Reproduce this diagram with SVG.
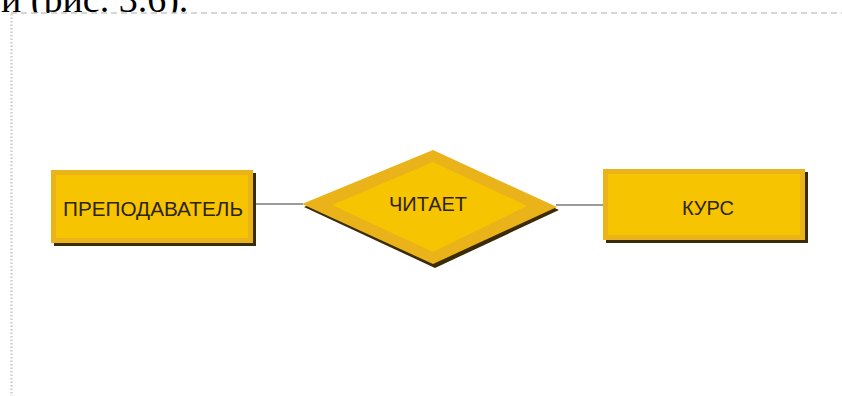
<svg xmlns="http://www.w3.org/2000/svg" width="842" height="396" viewBox="0 0 842 396">
  <style>
    .shadow { fill: #3b2c08; }
    .band { fill: #ebb31a; }
    .core { fill: #f6c400; }
    .label { font-family: "Liberation Sans", Arial, sans-serif; font-size: 20px; fill: #2e2410; text-anchor: middle; }
    .link { stroke: #7a7a7a; stroke-width: 1.3; fill: none; }
    .caption { font-family: "Liberation Serif", "Times New Roman", serif; font-size: 38px; fill: #000; }
  </style>

  <rect x="0" y="0" width="842" height="396" fill="#ffffff"/>

  <!-- running text above the frame -->
  <text class="caption" x="1" y="12">и (рис. 3.6).</text>
  <rect x="0" y="13" width="842" height="383" fill="#ffffff"/>

  <!-- frame edges -->
  <g id="frame">
    <line x1="11" y1="13" x2="842" y2="13" stroke="#c9c9c9" stroke-width="1.5" stroke-dasharray="6 4"/>
    <line x1="11.5" y1="14" x2="11.5" y2="396" stroke="#cfcfcf" stroke-width="2.5" stroke-dasharray="1.5 2"/>
  </g>

  <!-- connectors -->
  <g id="connectors">
    <line class="link" x1="253" y1="204" x2="303" y2="204"/>
    <line class="link" x1="556" y1="205" x2="603" y2="205"/>
  </g>

  <!-- entity: teacher -->
  <g id="teacher">
    <rect class="shadow" x="54" y="173" width="202" height="73"/>
    <rect class="band" x="51" y="170" width="202" height="73"/>
    <rect class="core" x="56" y="175" width="192" height="63"/>
    <text class="label" x="153" y="216" textLength="180" lengthAdjust="spacingAndGlyphs">ПРЕПОДАВАТЕЛЬ</text>
  </g>

  <!-- relationship: reads -->
  <g id="reads">
    <polygon class="shadow" points="435,153 559,210 435,268 304,207"/>
    <polygon class="band" points="433,150 557,207 433,264 302,204"/>
    <polygon class="core" points="433,162 527,206 433,252 332,205"/>
    <text class="label" x="428" y="211">ЧИТАЕТ</text>
  </g>

  <!-- entity: course -->
  <g id="course">
    <rect class="shadow" x="606" y="172" width="202" height="71"/>
    <rect class="band" x="603" y="169" width="202" height="71"/>
    <rect class="core" x="608" y="174" width="192" height="61"/>
    <text class="label" x="708" y="215">КУРС</text>
  </g>
</svg>
